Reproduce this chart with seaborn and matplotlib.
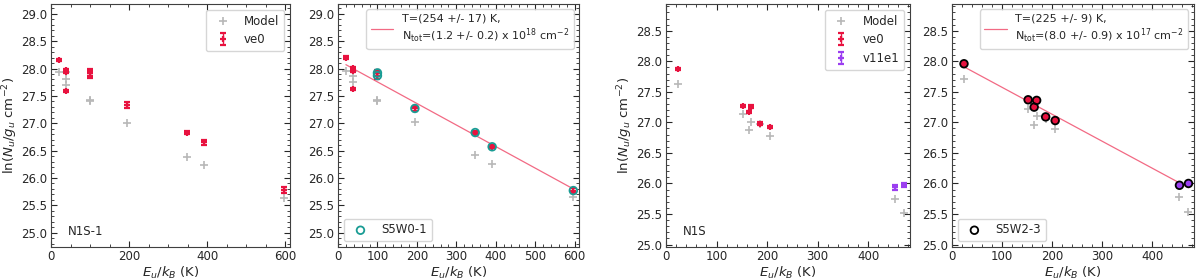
import numpy as np
import seaborn as sns
import matplotlib.pyplot as plt
from matplotlib.ticker import AutoMinorLocator, MultipleLocator

# ---- data ----
# N1S-1 / S5W0-1 (ve0 only)
eu_a = [20, 39, 39, 39, 100, 100, 195, 348, 391, 597]

n1s1_ln = [28.16, 27.97, 27.93, 27.59, 27.95, 27.87, 27.33, 26.83, 26.65, 25.78]
n1s1_err = [0.02, 0.03, 0.02, 0.02, 0.04, 0.05, 0.05, 0.03, 0.04, 0.06]
n1s1_model = [27.93, 27.93, 27.80, 27.70, 27.42, 27.40, 27.01, 26.39, 26.24, 25.63]

s5w01_ln = [28.20, 28.01, 27.95, 27.63, 27.92, 27.87, 27.27, 26.83, 26.57, 25.77]
s5w01_err = [0.02, 0.02, 0.02, 0.02, 0.05, 0.06, 0.04, 0.03, 0.03, 0.05]
s5w01_model = [27.96, 27.96, 27.87, 27.75, 27.43, 27.40, 27.03, 26.42, 26.26, 25.66]
s5w01_fit_eu = [100, 100, 195, 348, 391, 597]
s5w01_fit_ln = [27.92, 27.87, 27.27, 26.83, 26.57, 25.77]
s5w01_line_eu = [20, 597]
s5w01_line_ln = [28.07, 25.80]

# N1S / S5W2-3 (ve0 + v11e1)
eu_b = [24, 152, 164, 169, 187, 206]
eu_b_v11 = [454, 472]

n1s_ln = [27.87, 27.27, 27.17, 27.26, 26.98, 26.92]
n1s_err = [0.02, 0.02, 0.02, 0.02, 0.02, 0.02]
n1s_model = [27.63, 27.13, 26.87, 27.01, 26.97, 26.77]
n1s_v11_ln = [25.94, 25.97]
n1s_v11_err = [0.04, 0.03]
n1s_v11_model = [25.75, 25.52]

s5w23_ln = [27.96, 27.37, 27.25, 27.36, 27.09, 27.03]
s5w23_err = [0.02, 0.02, 0.02, 0.02, 0.02, 0.02]
s5w23_model = [27.71, 27.22, 26.95, 27.10, 27.05, 26.89]
s5w23_v11_ln = [25.97, 26.00]
s5w23_v11_err = [0.03, 0.02]
s5w23_v11_model = [25.78, 25.53]
s5w23_line_eu = [24, 472]
s5w23_line_ln = [27.91, 25.93]

RED = "#e8123f"
PURPLE = "#9b3ef0"
TEAL = "#199c94"
GREY = "0.72"
LINE = "#f26a84"

sns.set_style("ticks")
plt.rcParams["font.family"] = ["DejaVu Sans"]
plt.rcParams["font.size"] = 8.5

fig = plt.figure(figsize=(12, 2.8), dpi=100)
ax1 = fig.add_axes([0.0425, 0.118, 0.199, 0.868])
ax2 = fig.add_axes([0.2817, 0.118, 0.201, 0.868])
ax3 = fig.add_axes([0.555, 0.118, 0.2033, 0.868])
ax4 = fig.add_axes([0.7933, 0.118, 0.2017, 0.868])


def model_pts(ax, x, y, label=None):
    sns.scatterplot(x=x, y=y, marker="+", color=GREY, s=36, linewidth=1.2,
                    ax=ax, label=label, legend=False, zorder=2)


def ebar(ax, x, y, e, color, label=None):
    ax.errorbar(x, y, yerr=e, fmt="+", color=color, ms=4, mew=1.6,
                elinewidth=1.0, capsize=2, capthick=1.0, label=label, zorder=3)


def style(ax, xlim, ylim, xmajor):
    ax.set_xlim(*xlim)
    ax.set_ylim(*ylim)
    ax.xaxis.set_major_locator(MultipleLocator(xmajor))
    ax.yaxis.set_major_locator(MultipleLocator(0.5))
    ax.xaxis.set_minor_locator(AutoMinorLocator())
    ax.yaxis.set_minor_locator(AutoMinorLocator())
    ax.tick_params(which="both", direction="in", top=True, right=True,
                   labelsize=8.5, pad=2.5)
    ax.tick_params(which="major", length=4)
    ax.tick_params(which="minor", length=2)
    ax.set_xlabel("$E_u/k_B$ (K)", fontsize=9.5, labelpad=1)
    for s in ax.spines.values():
        s.set_color("0.25")


# panel 1
model_pts(ax1, eu_a, n1s1_model, "Model")
ebar(ax1, eu_a, n1s1_ln, n1s1_err, RED, "ve0")
style(ax1, (0, 612), (24.74, 29.18), 200)
ax1.set_ylabel("ln($N_u/g_u$ cm$^{-2}$)", fontsize=9.5, labelpad=1)
ax1.legend(loc="upper right", fontsize=8.5)
ax1.text(0.07, 0.05, "N1S-1", transform=ax1.transAxes, fontsize=8.5)

# panel 2
model_pts(ax2, eu_a, s5w01_model)
ebar(ax2, eu_a, s5w01_ln, s5w01_err, RED)
sns.lineplot(x=s5w01_line_eu, y=s5w01_line_ln, color=LINE, lw=0.9, ax=ax2,
             label="T=(254 +/- 17) K,\nN$_{\\rm tot}$=(1.2 +/- 0.2) x 10$^{18}$ cm$^{-2}$")
circ = ax2.scatter(s5w01_fit_eu, s5w01_fit_ln, s=30, facecolors="none",
                   edgecolors=TEAL, linewidths=1.3, zorder=4, label="S5W0-1")
style(ax2, (0, 612), (24.74, 29.18), 100)
leg = ax2.legend(handles=ax2.get_lines()[-1:], loc="upper right", fontsize=8)
ax2.add_artist(leg)
ax2.legend(handles=[circ], loc="lower left", fontsize=8.5)

# panel 3
model_pts(ax3, eu_b + eu_b_v11, n1s_model + n1s_v11_model, "Model")
ebar(ax3, eu_b, n1s_ln, n1s_err, RED, "ve0")
ebar(ax3, eu_b_v11, n1s_v11_ln, n1s_v11_err, PURPLE, "v11e1")
style(ax3, (0, 483), (24.96, 28.94), 100)
ax3.set_ylabel("ln($N_u/g_u$ cm$^{-2}$)", fontsize=9.5, labelpad=1)
ax3.legend(loc="upper right", fontsize=8.5)
ax3.text(0.07, 0.05, "N1S", transform=ax3.transAxes, fontsize=8.5)

# panel 4
model_pts(ax4, eu_b + eu_b_v11, s5w23_model + s5w23_v11_model)
ebar(ax4, eu_b, s5w23_ln, s5w23_err, RED)
ebar(ax4, eu_b_v11, s5w23_v11_ln, s5w23_v11_err, PURPLE)
sns.scatterplot(x=eu_b, y=s5w23_ln, s=26, color=RED, edgecolor="none", ax=ax4, zorder=4)
sns.scatterplot(x=eu_b_v11, y=s5w23_v11_ln, s=26, color=PURPLE, edgecolor="none", ax=ax4, zorder=4)
sns.lineplot(x=s5w23_line_eu, y=s5w23_line_ln, color=LINE, lw=0.9, ax=ax4,
             label="T=(225 +/- 9) K,\nN$_{\\rm tot}$=(8.0 +/- 0.9) x 10$^{17}$ cm$^{-2}$")
circ4 = ax4.scatter(eu_b + eu_b_v11, s5w23_ln + s5w23_v11_ln, s=30, facecolors="none",
                    edgecolors="black", linewidths=1.3, zorder=5, label="S5W2-3")
style(ax4, (0, 483), (24.96, 28.94), 100)
leg4 = ax4.legend(handles=ax4.get_lines()[-1:], loc="upper right", fontsize=8)
ax4.add_artist(leg4)
ax4.legend(handles=[circ4], loc="lower left", fontsize=8.5)

fig.savefig("out.png", dpi=100)
